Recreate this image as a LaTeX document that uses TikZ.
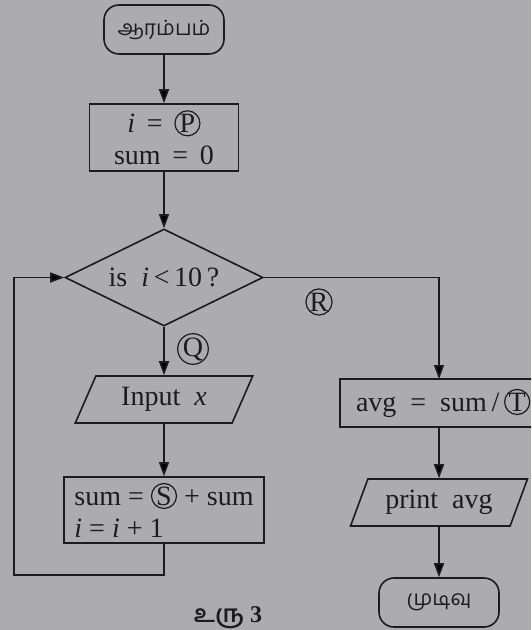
\documentclass[tikz,border=0pt]{standalone}
\usepackage{fontspec}
\setmainfont{Liberation Serif}
\newfontfamily\tamilfont[Script=Tamil]{Hind Madurai}
\definecolor{PaperGrey}{RGB}{172,172,176}
\definecolor{InkBlack}{RGB}{28,28,32}
\usetikzlibrary{shapes,arrows.meta,positioning}
\newcommand{\circled}[1]{\tikz[baseline=(ch.base)]\node[circle,draw=InkBlack,line width=0.6pt,inner sep=0pt,minimum size=12.5pt] (ch) {#1};}

\begin{document}
\begin{tikzpicture}[x=0.5pt,y=-0.5pt,
    font=\fontsize{14}{16}\selectfont,
    every node/.style={text=InkBlack},
    term/.style={draw=InkBlack, line width=0.8pt, rounded corners=7.5pt, minimum width=60pt, minimum height=24.5pt, inner sep=0pt, font=\fontsize{10.5}{12}\selectfont\tamilfont},
    process/.style={draw=InkBlack, line width=0.8pt, rectangle, inner sep=0pt},
    decision/.style={draw=InkBlack, line width=0.8pt, diamond, aspect=2, inner sep=0pt, minimum width=99pt, minimum height=48.5pt},
    io/.style={draw=InkBlack, line width=0.8pt, trapezium, trapezium left angle=62, trapezium right angle=118, trapezium stretches=true, minimum width=89pt, minimum height=23.5pt, inner sep=0pt},
    letterc/.style={circle, draw=InkBlack, line width=0.6pt, inner sep=0pt, minimum size=12.5pt},
    flow/.style={draw=InkBlack, line width=0.8pt, -{Triangle[length=7pt,width=5pt]}}]
    \useasboundingbox (0,0) rectangle (531,630);
    \fill[PaperGrey] (0,0) rectangle (531,630);

    % Left column
    \node[term] (start) at (164,29.5) {ஆரம்பம்};
    \node[process, minimum width=74.5pt, minimum height=33.5pt, align=center] (init) at (164,137.5) {\textit{i} \,=\, \circled{P}\\ sum \,=\, 0};
    \node[decision] (test) at (164,277.5) {is \ \textit{i}\,<\,10\,?};
    \node[io] (input) at (164,399.5) {Input \ \textit{x}};
    \node[process, minimum width=100pt, minimum height=33pt, align=left] (update) at (164,510) {sum = \circled{S} + sum\\ \textit{i} = \textit{i} + 1};

    % Right column (box runs off the page edge)
    \begin{scope}
        \clip (0,0) rectangle (531,630);
        \node[process, minimum width=120pt, minimum height=24pt, text width=104pt, align=left] (avg) at (460,403) {avg \,=\, sum\,/\,\circled{T}};
    \end{scope}
    \coordinate (avgin) at (439,379);
    \node[io] (print) at (439,502.5) {print \ avg};
    \node[term] (stop) at (439,602.5) {முடிவு};

    % Labels
    \node[letterc] (lblq) at (193,349) {Q};
    \node[letterc] (lblr) at (319,302) {R};
    \node (caption) at (228,618) {\fontsize{12}{14}\selectfont{\tamilfont\bfseries உரு} \textbf{3}};

    % Connectors
    \coordinate (loopbl) at (14,575);
    \draw[flow] (start) -- (init);
    \draw[flow] (init) -- (test);
    \draw[flow] (test) -- (input);
    \draw[flow] (input) -- (update);
    \draw[flow] (update.south) |- (loopbl) |- (test.west);
    \draw[flow] (test.east) -| (avgin);
    \draw[flow] (avg.south -| print) -- (print);
    \draw[flow] (print) -- (stop);
\end{tikzpicture}
\end{document}
